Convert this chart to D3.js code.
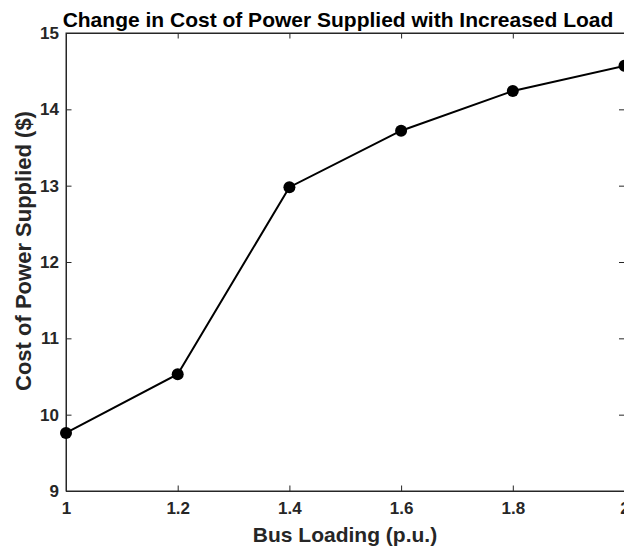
<!DOCTYPE html>
<html><head><meta charset="utf-8">
<script src="https://cdn.jsdelivr.net/npm/d3@7"></script>
<style>
html,body{margin:0;padding:0;background:#fff;}
svg{display:block;font-family:"Liberation Sans",Arial,Helvetica,sans-serif;font-weight:bold;}
</style></head><body>
<svg id="c" width="624" height="551"></svg>
<script>
const busLoading = [1, 1.2, 1.4, 1.6, 1.8, 2];
const cost = [9.76, 10.53, 12.98, 13.72, 14.24, 14.57];
const xTicks = [1, 1.2, 1.4, 1.6, 1.8, 2];
const yTicks = [9, 10, 11, 12, 13, 14, 15];
const titleText = "Change in Cost of Power Supplied with Increased Load";
const xLabel = "Bus Loading (p.u.)";
const yLabel = "Cost of Power Supplied ($)";

const svg = d3.select("#c");
const L = 66, R = 624.5, T = 33, B = 491;
const x = d3.scaleLinear().domain([1, 2]).range([L, R]);
const y = d3.scaleLinear().domain([9, 15]).range([B, T]);
const axisColor = "#262626";

svg.append("rect").attr("x", L).attr("y", T).attr("width", R - L).attr("height", B - T)
  .attr("fill", "none").attr("stroke", axisColor).attr("stroke-width", 1);

const tickLen = 5.5;
const fmt = d => d3.format("")(d);

const xb = svg.append("g").attr("transform", `translate(0,${B})`)
  .call(d3.axisBottom(x).tickValues(xTicks).tickSize(-tickLen).tickPadding(11).tickFormat(fmt));
const xt = svg.append("g").attr("transform", `translate(0,${T})`)
  .call(d3.axisTop(x).tickValues(xTicks).tickSize(-tickLen).tickFormat(""));
const yl = svg.append("g").attr("transform", `translate(${L},0)`)
  .call(d3.axisLeft(y).tickValues(yTicks).tickSize(-tickLen).tickPadding(7).tickFormat(fmt));
const yr = svg.append("g").attr("transform", `translate(${R},0)`)
  .call(d3.axisRight(y).tickValues(yTicks).tickSize(-tickLen).tickFormat(""));

[xb, xt, yl, yr].forEach(g => {
  g.attr("font-size", 17).attr("font-family", "Liberation Sans, Arial, sans-serif").attr("font-weight", "bold");
  g.select(".domain").attr("stroke", axisColor);
  g.selectAll(".tick line").attr("stroke", axisColor);
  g.selectAll("text").attr("fill", axisColor);
});

const pts = busLoading.map((b, i) => [b, cost[i]]);
svg.append("path").datum(pts)
  .attr("fill", "none").attr("stroke", "#000").attr("stroke-width", 2)
  .attr("d", d3.line().x(d => x(d[0])).y(d => y(d[1])));
svg.selectAll("circle.pt").data(pts).enter()
  .append("circle").attr("class", "pt")
  .attr("cx", d => x(d[0])).attr("cy", d => y(d[1])).attr("r", 6).attr("fill", "#000");

svg.append("text").attr("x", 338).attr("y", 26.5).attr("text-anchor", "middle")
  .attr("font-size", 21).attr("fill", "#000").text(titleText);
svg.append("text").attr("x", 345).attr("y", 541.5).attr("text-anchor", "middle")
  .attr("font-size", 21).attr("fill", axisColor).text(xLabel);
svg.append("text").attr("transform", `translate(31,251) rotate(-90)`).attr("text-anchor", "middle")
  .attr("font-size", 22).attr("fill", axisColor).text(yLabel);
</script>
</body></html>
